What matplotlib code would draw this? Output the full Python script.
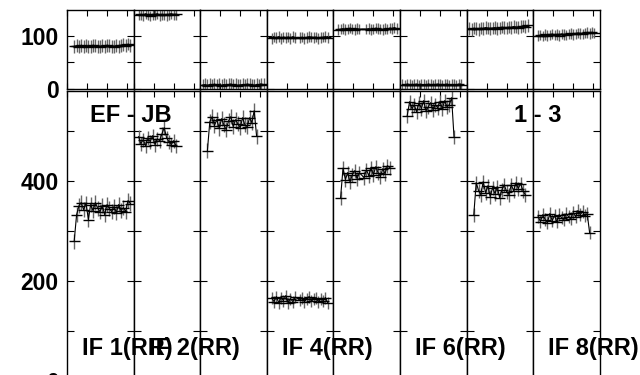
import numpy as np
import matplotlib
matplotlib.use('Agg')
import matplotlib.pyplot as plt

plt.rcParams['font.family'] = ['Liberation Sans', 'DejaVu Sans']
plt.rcParams['font.weight'] = 'bold'

n = np.nan

# scan times (hours from start), shared by all IFs
times = [0.12, 0.25, 0.36, 0.48, 0.60, 0.71, 0.83, 0.95, 1.07, 1.18, 1.30, 1.42, 1.53, 1.65,
         1.77, 1.88, 2.00, 2.12, 2.23, 2.35, 2.47, 2.58, 2.70, 2.82, 2.93, 3.05, 3.17]

# top row: phase per IF
phase = [
    [n, n, 80, 81, 79, 82, 80, 81, 79, 80, 82, 81, 80, 79, 81, 80, 82, 81, 80, 79, 81, 80, 82, 83, 81, 84, 82],
    [n, 139, 140, 138, 141, 139, 137, 140, 139, 141, 138, 140, 139, 138, 140, 141, 139, 140, n, n, n, n, n, n, n, n, n],
    [7, 8, 6, 8, 7, 9, 7, 8, 6, 8, 7, 8, 9, 7, 8, 6, 7, 8, 7, 9, 8, 7, 6, 8, 7, 9, 8],
    [n, 95, 97, 96, 98, 95, 97, 96, 97, 95, 98, 96, n, 96, 97, 95, 96, 98, 97, 96, 97, 95, 96, 97, 98, 96, n],
    [n, 111, 112, 113, 111, 112, 114, 112, 111, 113, 112, n, n, 112, 113, 111, 112, 114, 113, 112, 111, 113, 112, 114, 113, 115, 113],
    [8, 7, 9, 8, 7, 8, 9, 7, 8, 8, 7, 9, 8, 7, 8, 9, 8, 7, 8, 9, 7, 8, 8, 7, 9, 8, n],
    [113, 112, 114, 113, 112, 114, 113, 115, 114, 113, 114, 115, 113, 114, 116, 115, 114, 116, 115, 117, 116, 115, 117, 118, 117, 119, n],
    [n, 100, 101, 99, 102, 100, 101, 103, 101, 102, 100, 103, 102, 101, 103, 104, 102, 103, 105, 104, 103, 105, 106, 104, 106, 105, n],
]
phase_err = [12, 10, 12, 10, 10, 10, 12, 10]

# bottom row: delay per IF
delay = [
    [n, n, 279, 332, 350, 356, 342, 355, 322, 352, 340, 356, 345, 338, 350, 332, 352, 344, 338, 348, 336, 352, 340, 346, 338, 360, 354],
    [n, 488, 474, 482, 470, 486, 478, 490, 472, 484, 480, 494, 506, 486, 478, 472, 480, 470, n, n, n, n, n, n, n, n, n],
    [n, n, 460, 518, 528, 510, 522, 505, 524, 512, 502, 520, 528, 508, 522, 514, 506, 526, 512, 508, 526, 516, 540, 489, n, n, n],
    [n, 165, 158, 168, 155, 166, 160, 170, 156, 164, 158, 167, n, 161, 166, 157, 164, 168, 159, 163, 166, 157, 164, 160, 166, 155, n],
    [n, n, 366, 425, 402, 416, 398, 412, 420, 404, 416, n, 406, 422, 410, 426, 412, 428, 416, 408, 424, 414, 430, 426, n, n, n],
    [n, n, 530, 558, 544, 552, 538, 556, 544, 560, 540, 548, 556, 542, 552, 546, 558, 544, 560, 548, 552, 566, 488, n, n, n, n],
    [n, n, 332, 396, 380, 372, 398, 376, 390, 368, 386, 374, 388, 366, 382, 392, 378, 372, 392, 380, 396, 384, 394, 380, 372, n, n],
    [n, 328, 318, 332, 322, 316, 334, 320, 330, 318, 332, 326, 322, 334, 328, 324, 336, 328, 340, 332, 338, 330, 334, 296, n, n, n],
]
delay_err = [15, 14, 15, 12, 14, 14, 14, 13]

if_labels = ['IF 1(RR)', 'IF 2(RR)', '', 'IF 4(RR)', '', 'IF 6(RR)', '', 'IF 8(RR)']

W, H = 640, 375
fig = plt.figure(figsize=(6.4, 3.75), dpi=100)

x0, pw = 67, 66.6


def draw(ax, t, v, err):
    t = np.array(t)
    v = np.array(v, dtype=float)
    ok = ~np.isnan(v)
    ax.errorbar(t[ok], v[ok], yerr=err, fmt='none', ecolor='0.4', elinewidth=1.0, capsize=0)
    ax.errorbar(t[ok], v[ok], xerr=0.28, fmt='none', ecolor='black', elinewidth=1.0, capsize=0)
    ax.plot(t[ok], v[ok], color='black', lw=0.8)


def style(ax, first):
    ax.set_xlim(0, 3.33)
    ax.set_xticks([0, 1, 2, 3])
    ax.tick_params(axis='x', direction='in', top=True, bottom=True, length=4, width=0.8, labelbottom=False)
    ax.tick_params(axis='y', direction='in', left=True, right=True, length=5, width=0.8,
                   labelleft=first, labelsize=16.5, pad=6)
    for s in ax.spines.values():
        s.set_linewidth(1.0)


for i in range(8):
    left = (x0 + i * pw) / W
    width = pw / W
    ax_t = fig.add_axes([left, 1 - 88.8 / H, width, (88.8 - 10) / H])
    draw(ax_t, times, phase[i], phase_err[i])
    ax_t.set_ylim(0, 148)
    ax_t.set_yticks([0, 50, 100])
    ax_t.set_yticklabels(['0', '', '100'])
    style(ax_t, i == 0)

    ax_b = fig.add_axes([left, 1 - 380.5 / H, width, (380.5 - 90.7) / H])
    draw(ax_b, times, delay[i], delay_err[i])
    ax_b.set_ylim(0, 580)
    ax_b.set_yticks([0, 100, 200, 300, 400, 500])
    ax_b.set_yticklabels(['0', '', '200', '', '400', ''])
    style(ax_b, i == 0)

    if if_labels[i]:
        fig.text((x0 + i * pw + 15) / W, 1 - 349 / H, if_labels[i], fontsize=17,
                 fontweight='bold', ha='left', va='center')

fig.text(131 / W, 1 - 116 / H, 'EF - JB', fontsize=17, fontweight='bold', ha='center', va='center')
fig.text(538 / W, 1 - 116 / H, '1 - 3', fontsize=17, fontweight='bold', ha='center', va='center')

fig.savefig('out.png', dpi=100)
